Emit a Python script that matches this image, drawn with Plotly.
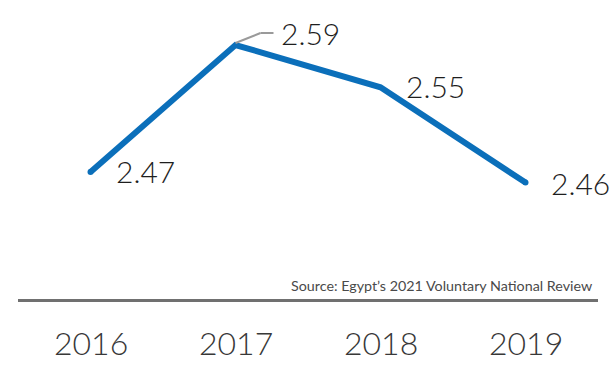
import plotly.graph_objects as go

years = [2016, 2017, 2018, 2019]
values = [2.47, 2.59, 2.55, 2.46]
value_labels = ["2.47", "2.59", "2.55", "2.46"]
year_labels = ["2016", "2017", "2018", "2019"]
source_note = "Source: Egypt\u2019s 2021 Voluntary National Review"

BLUE = "#0B6FBA"
FONT = "Lato"

fig = go.Figure()

fig.add_trace(go.Scatter(
    x=years, y=values, mode="lines",
    line=dict(color=BLUE, width=6),
    hoverinfo="skip", showlegend=False,
))
# rounded ends of the line
fig.add_trace(go.Scatter(
    x=[years[0], years[-1]], y=[values[0], values[-1]], mode="markers",
    marker=dict(color=BLUE, size=6, line=dict(width=0)),
    hoverinfo="skip", showlegend=False,
))

# value labels (pixel offsets from each point)
offsets = [(23, 1), (43, 12), (23, 1), (23, 0)]
for x, y, t, (dx, dy) in zip(years, values, value_labels, offsets):
    fig.add_annotation(
        x=x, y=y, xref="x", yref="y", text=t, showarrow=False,
        xanchor="left", yanchor="middle", xshift=dx, yshift=dy,
        font=dict(family=FONT, size=30, color="#1e1e1e", weight=300),
    )

# leader line for the 2017 label
fig.add_shape(type="line", xref="x", yref="y", xsizemode="pixel", ysizemode="pixel",
              xanchor=years[1], yanchor=values[1], x0=0, y0=2, x1=25, y1=12,
              line=dict(color="#9a9a9a", width=2))
fig.add_shape(type="line", xref="x", yref="y", xsizemode="pixel", ysizemode="pixel",
              xanchor=years[1], yanchor=values[1], x0=25, y0=12, x1=38, y1=12,
              line=dict(color="#9a9a9a", width=2))

# year labels below the axis line
for x, t in zip(years, year_labels):
    fig.add_annotation(
        x=x, y=0, xref="x", yref="paper", text=t, showarrow=False,
        xanchor="center", yanchor="middle", yshift=-43,
        font=dict(family=FONT, size=32, color="#383838", weight=300),
    )

fig.add_annotation(
    x=1, y=0, xref="paper", yref="paper", text=source_note, showarrow=False,
    xanchor="right", yanchor="bottom", xshift=-4, yshift=3,
    font=dict(family=FONT, size=14.3, color="#4a4a4a"),
)

fig.update_layout(
    width=611, height=367,
    margin=dict(l=18, r=13, t=0, b=68),
    paper_bgcolor="white", plot_bgcolor="white",
    xaxis=dict(range=[2015.5, 2019.5], showgrid=False, zeroline=False,
               showticklabels=False, ticks="", showline=True,
               linecolor="#707070", linewidth=2.5, fixedrange=True),
    yaxis=dict(range=[2.34993, 2.63253], showgrid=False, zeroline=False,
               showticklabels=False, ticks="", showline=False, fixedrange=True),
)

fig.write_html("out.html")
